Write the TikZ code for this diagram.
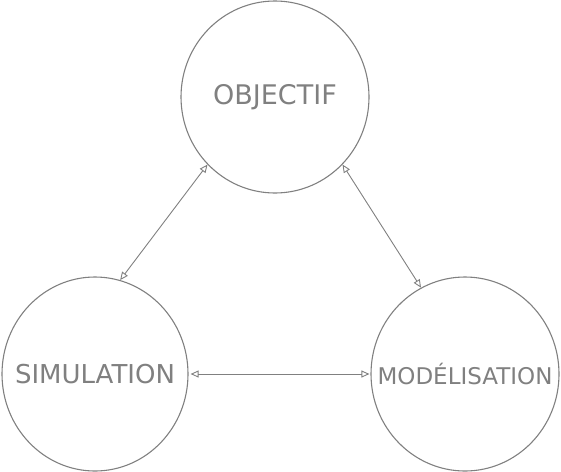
\documentclass[tikz,border=0pt]{standalone}
\usepackage{fontspec}
\setmainfont{DejaVu Sans}
\usetikzlibrary{arrows.meta,shapes.geometric}
\definecolor{sk}{HTML}{808080}
\begin{document}
\begin{tikzpicture}[x=1pt,y=-1pt,
  blob/.style={ellipse,draw=sk,line width=1.1pt,minimum width=188pt,minimum height=194pt,inner sep=0pt},
  word/.style={text=sk,font=\fontsize{#1}{#1}\selectfont},
  link/.style={draw=sk,line width=0.9pt,{Triangle[open,length=8pt,width=7pt]}-{Triangle[open,length=8pt,width=7pt]}}]
\useasboundingbox (0,0) rectangle (561,471);
\node[blob,minimum height=192pt,label={[word=27]center:OBJECTIF}] (obj) at (275,97) {};
\node[blob,minimum width=186pt,label={[word=26]center:SIMULATION}] (sim) at (95,374) {};
\node[blob,label={[word=23]center:MODÉLISATION}] (mod) at (465,374) {};
\draw[link] (obj.225) -- (sim.75);
\draw[link] (obj.315) -- (mod.117);
\draw[link,shorten <=2pt,shorten >=1pt] (sim.east) -- (mod.west);
\end{tikzpicture}
\end{document}
